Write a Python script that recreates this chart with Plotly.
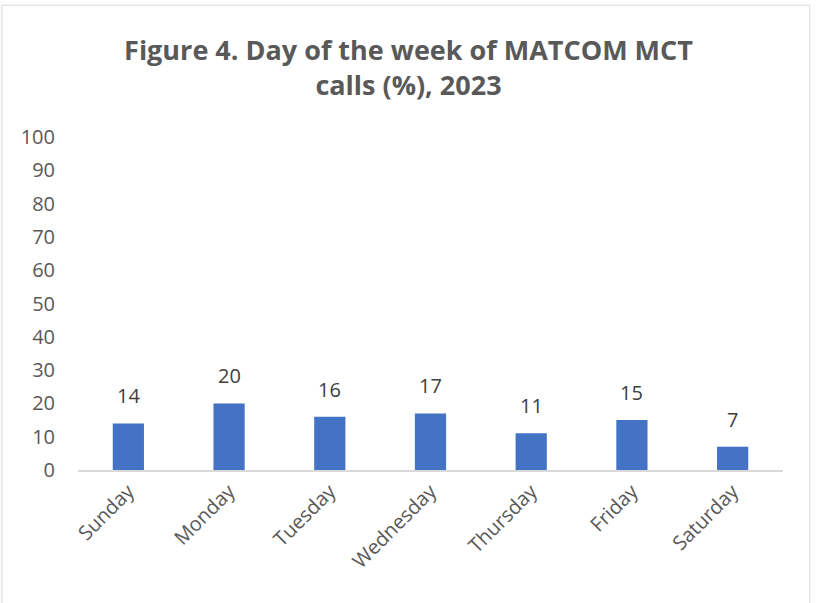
import plotly.graph_objects as go

days = ["Sunday", "Monday", "Tuesday", "Wednesday", "Thursday", "Friday", "Saturday"]
pct = [14, 20, 16, 17, 11, 15, 7]
y_ticks = [0, 10, 20, 30, 40, 50, 60, 70, 80, 90, 100]

FONT = "Open Sans"
GRAY = "#595959"

fig = go.Figure(go.Bar(
    x=days, y=pct,
    marker=dict(color="#4472C4", line=dict(width=0)),
    cliponaxis=False,
))

for d, v in zip(days, pct):
    fig.add_annotation(
        x=d, y=v, text=str(v), showarrow=False,
        xanchor="center", yanchor="bottom", yshift=12,
        font=dict(family=FONT, size=20, color="#404040"),
    )

fig.update_layout(
    width=817, height=603,
    margin=dict(l=78, r=34, t=137, b=133),
    paper_bgcolor="white", plot_bgcolor="white",
    bargap=0.69,
    showlegend=False,
    title=dict(
        text="<b>Figure 4. Day of the week of MATCOM MCT<br>calls (%), 2023</b>",
        x=0.5, xanchor="center", y=0.9, yanchor="middle",
        font=dict(family=FONT, size=27, color=GRAY),
    ),
    font=dict(family=FONT, color=GRAY),
    xaxis=dict(
        tickangle=-45, tickfont=dict(family=FONT, size=20, color=GRAY),
        showline=True, linecolor="#D9D9D9", linewidth=1.5,
        showgrid=False, ticks="",
    ),
    yaxis=dict(
        range=[0, 100], tickvals=y_ticks,
        tickfont=dict(family=FONT, size=20, color=GRAY),
        showgrid=False, zeroline=False, showline=False, ticks="",
        ticklabelstandoff=22,
    ),
    shapes=[dict(
        type="rect", xref="paper", yref="paper",
        x0=-0.108, x1=1.038, y0=-0.41, y1=1.396,
        line=dict(color="#D9D9D9", width=1), fillcolor="rgba(0,0,0,0)",
        layer="below",
    )],
)

fig.write_html("out.html", config={"displayModeBar": False},
               post_script="document.body.style.margin='0';")
